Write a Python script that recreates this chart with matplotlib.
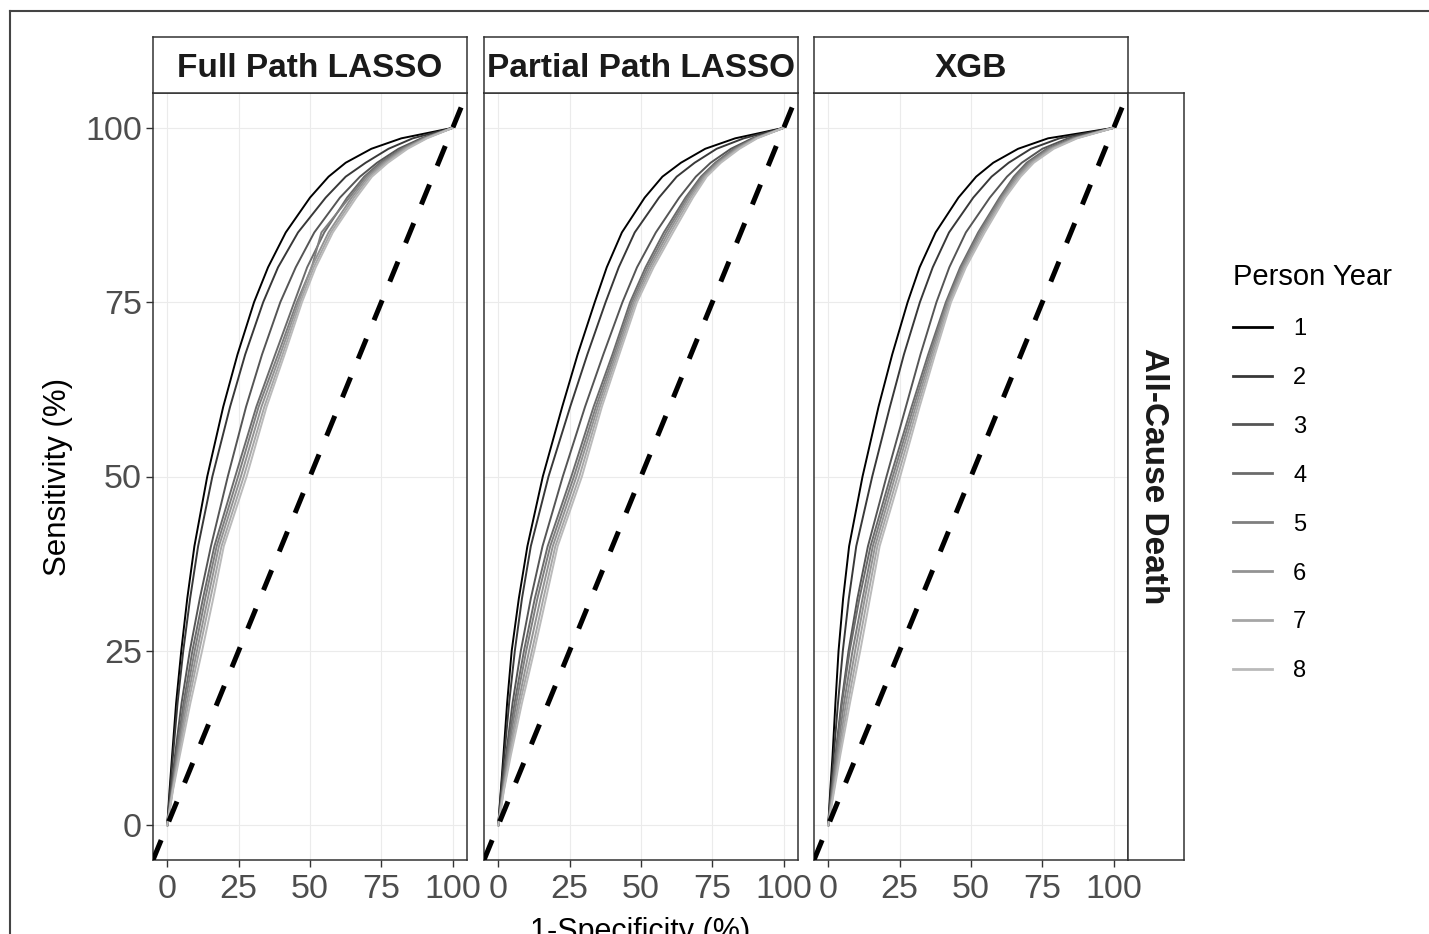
import matplotlib
matplotlib.use("Agg")
import matplotlib.pyplot as plt
from matplotlib.lines import Line2D

plt.rcParams['font.family'] = ['Liberation Sans', 'DejaVu Sans']
plt.rcParams['lines.scale_dashes'] = False

# ---- data ----
panel_titles = ["Full Path LASSO", "Partial Path LASSO", "XGB"]
row_title = "All-Cause Death"
years = ["1", "2", "3", "4", "5", "6", "7", "8"]
year_colors = ['#000000', '#383838', '#555555', '#6b6b6b',
               '#7f7f7f', '#939393', '#a6a6a6', '#bababa']

# sensitivity levels (%) and the 1-specificity (%) where each curve reaches them
tpr_levels = [0, 2.5, 5, 10, 17.5, 25, 32.5, 40, 50, 60, 67.5, 75, 80, 85, 90, 93, 95, 97, 98.5, 100]

fpr_full = [
    [0, 0.4, 0.8, 1.7, 3.1, 4.9, 7.0, 9.5, 14.0, 19.6, 24.6, 30.4, 35.3, 41.5, 50.0, 56.5, 62.5, 71.5, 82.0, 100],
    [0, 0.5, 1.0, 2.0, 3.6, 5.6, 8.0, 10.8, 15.8, 22.0, 27.3, 33.6, 38.8, 45.8, 55.5, 62.5, 69.5, 77.5, 86.0, 100],
    [0, 0.6, 1.3, 2.7, 5.0, 7.9, 11.4, 15.3, 21.2, 27.6, 33.2, 39.6, 45.0, 51.5, 60.5, 67.5, 73.5, 81.0, 89.0, 100],
    [0, 0.8, 1.6, 3.1, 5.7, 8.8, 12.5, 16.5, 23.8, 31.2, 37.8, 44.5, 49.0, 55.0, 63.0, 69.0, 74.5, 82.0, 89.5, 100],
    [0, 0.85, 1.7, 3.4, 6.2, 9.6, 13.3, 17.3, 24.8, 32.0, 38.8, 45.4, 50.6, 54.0, 63.8, 69.6, 75.2, 82.5, 90.0, 100],
    [0, 0.9, 1.8, 3.7, 6.8, 10.4, 14.2, 18.1, 25.8, 33.0, 39.6, 46.0, 50.5, 56.5, 64.6, 70.3, 75.9, 83.0, 90.3, 100],
    [0, 0.95, 1.9, 4.0, 7.4, 11.2, 15.1, 19.0, 26.8, 34.0, 40.4, 46.6, 51.3, 57.3, 65.4, 71.0, 76.6, 83.6, 90.6, 100],
    [0, 1.0, 2.0, 4.4, 8.1, 12.2, 16.1, 19.8, 27.8, 34.8, 41.1, 47.2, 52.0, 58.0, 66.2, 71.7, 77.3, 84.2, 91.0, 100],
]

fpr_partial = [
    [0, 0.45, 0.9, 1.8, 3.1, 4.7, 7.2, 10.2, 15.6, 22.4, 27.8, 33.8, 38.0, 43.3, 51.3, 57.5, 64.0, 72.5, 83.0, 100],
    [0, 0.5, 1.0, 2.1, 3.8, 5.8, 8.3, 11.4, 17.6, 25.2, 31.2, 37.6, 42.2, 47.8, 56.3, 62.5, 68.8, 76.5, 86.0, 100],
    [0, 0.65, 1.3, 2.7, 5.0, 7.9, 11.4, 15.5, 22.6, 30.4, 36.8, 43.5, 48.6, 55.2, 63.4, 69.2, 74.4, 81.5, 89.0, 100],
    [0, 0.75, 1.5, 3.0, 5.7, 9.0, 12.8, 17.3, 25.6, 33.4, 40.0, 46.2, 51.6, 58.0, 65.6, 71.0, 76.0, 82.5, 89.5, 100],
    [0, 0.8, 1.6, 3.3, 6.3, 9.8, 13.7, 18.2, 26.5, 34.2, 40.6, 46.8, 52.3, 58.8, 66.2, 71.5, 76.5, 83.0, 89.8, 100],
    [0, 0.85, 1.7, 3.7, 7.0, 10.8, 14.8, 19.1, 27.4, 34.9, 41.2, 47.4, 53.0, 59.6, 66.8, 72.0, 77.0, 83.5, 90.1, 100],
    [0, 0.95, 1.9, 4.0, 7.6, 11.8, 15.8, 20.0, 28.4, 35.6, 41.8, 48.0, 53.7, 60.4, 67.5, 72.5, 77.5, 84.0, 90.4, 100],
    [0, 1.0, 2.0, 4.4, 8.3, 12.6, 16.7, 20.8, 29.3, 36.3, 42.4, 48.6, 54.4, 61.2, 68.2, 73.0, 78.0, 84.5, 90.7, 100],
]

fpr_xgb = [
    [0, 0.35, 0.7, 1.5, 2.5, 3.6, 5.2, 7.3, 12.0, 17.6, 22.4, 27.8, 32.0, 37.6, 45.6, 51.8, 57.8, 66.5, 77.0, 100],
    [0, 0.45, 0.9, 1.9, 3.4, 5.1, 7.2, 9.8, 15.4, 21.6, 26.5, 32.1, 36.6, 42.3, 50.8, 57.2, 63.2, 71.0, 81.0, 100],
    [0, 0.6, 1.2, 2.5, 4.6, 7.1, 10.2, 13.9, 20.4, 27.2, 32.3, 37.9, 42.4, 48.2, 56.6, 62.6, 67.8, 75.0, 84.0, 100],
    [0, 0.65, 1.3, 2.6, 4.8, 7.5, 10.9, 14.8, 21.8, 29.2, 35.0, 41.2, 46.2, 52.5, 60.0, 65.0, 69.5, 76.5, 85.5, 100],
    [0, 0.75, 1.5, 3.0, 5.5, 8.5, 12.0, 15.6, 22.6, 29.9, 35.6, 41.6, 46.7, 53.0, 60.5, 65.6, 70.2, 77.2, 86.0, 100],
    [0, 0.85, 1.7, 3.4, 6.2, 9.4, 12.8, 16.4, 23.4, 30.6, 36.2, 42.0, 47.2, 53.6, 61.0, 66.2, 70.8, 77.8, 86.4, 100],
    [0, 0.95, 1.9, 3.8, 6.9, 10.3, 13.7, 17.2, 24.3, 31.3, 36.8, 42.5, 47.7, 54.2, 61.5, 66.8, 71.4, 78.4, 86.8, 100],
    [0, 1.05, 2.1, 4.2, 7.6, 11.2, 14.6, 18.0, 25.2, 32.0, 37.4, 43.0, 48.2, 54.8, 62.0, 67.4, 72.0, 79.0, 87.2, 100],
]

panel_data = [fpr_full, fpr_partial, fpr_xgb]
ticks = [0, 25, 50, 75, 100]

# ---- layout (pixel positions of the original) ----
W, H = 1429, 934
def fx(px):
    return px / W
def fy(py):
    return 1 - py / H

panel_left = [153, 484, 814]
panel_w = 314
p_top, p_bot = 93, 860
strip_h = 56
frame_col = '#333333'

fig = plt.figure(figsize=(W / 100, H / 100), dpi=100)

for i in range(3):
    ax = fig.add_axes([fx(panel_left[i]), fy(p_bot), panel_w / W, (p_bot - p_top) / H])
    ax.set_xlim(-5, 105)
    ax.set_ylim(-5, 105)
    for k in range(len(years)):
        ax.plot(panel_data[i][k], tpr_levels, color=year_colors[k], lw=1.4,
                label=years[k], zorder=2)
    ax.plot([-5, 105], [-5, 105], color='black', lw=3.6, linestyle=(0, (15.5, 14.5)),
            zorder=3, dash_capstyle='butt')
    ax.set_xticks(ticks)
    ax.set_yticks(ticks)
    ax.grid(True, color='#EBEBEB', lw=0.8)
    ax.set_axisbelow(True)
    for sp in ax.spines.values():
        sp.set_color(frame_col)
        sp.set_linewidth(1.1)
    ax.tick_params(length=5, width=1.0, color=frame_col, labelsize=24.5,
                   labelcolor='#4D4D4D')
    ax.tick_params(axis='x', pad=5)
    ax.tick_params(axis='y', pad=3)
    if i > 0:
        ax.tick_params(axis='y', left=False, labelleft=False)

    # facet strip on top
    sax = fig.add_axes([fx(panel_left[i]), fy(p_top), panel_w / W, strip_h / H])
    sax.set_xticks([])
    sax.set_yticks([])
    for sp in sax.spines.values():
        sp.set_color(frame_col)
        sp.set_linewidth(1.1)
    sax.text(0.5, 0.44, panel_titles[i], transform=sax.transAxes, ha='center',
             va='center', fontsize=24, fontweight='bold', color='#1A1A1A')

# strip on the right
rax = fig.add_axes([fx(1128), fy(p_bot), strip_h / W, (p_bot - p_top) / H])
rax.set_xticks([])
rax.set_yticks([])
for sp in rax.spines.values():
    sp.set_color(frame_col)
    sp.set_linewidth(1.1)
rax.text(0.45, 0.5, row_title, transform=rax.transAxes, ha='center', va='center',
         rotation=-90, fontsize=24, fontweight='bold', color='#1A1A1A')

# axis titles
fig.text(fx(58), fy(477), 'Sensitivity (%)', rotation=90, ha='center', va='center',
         fontsize=22.5, color='black')
fig.text(fx(640), fy(917), '1-Specificity (%)', ha='center', va='top',
         fontsize=22, color='black')

# legend
leg_handles = [Line2D([], [], color=c, lw=2.0) for c in year_colors]
fig.legend(leg_handles, years, title='Person Year', loc='upper left',
           bbox_to_anchor=(fx(1233), fy(263)), frameon=False, fontsize=17,
           title_fontsize=21, handlelength=1.65, handletextpad=0.9,
           labelspacing=1.14, alignment='left', borderpad=0, borderaxespad=0)

# outer border of the figure
fig.add_artist(Line2D([fx(10), fx(10)], [0, fy(11)], transform=fig.transFigure,
                      color='#444444', lw=1.5))
fig.add_artist(Line2D([fx(10), 1], [fy(11), fy(11)], transform=fig.transFigure,
                      color='#444444', lw=1.5))

fig.savefig('out.png', dpi=100)
